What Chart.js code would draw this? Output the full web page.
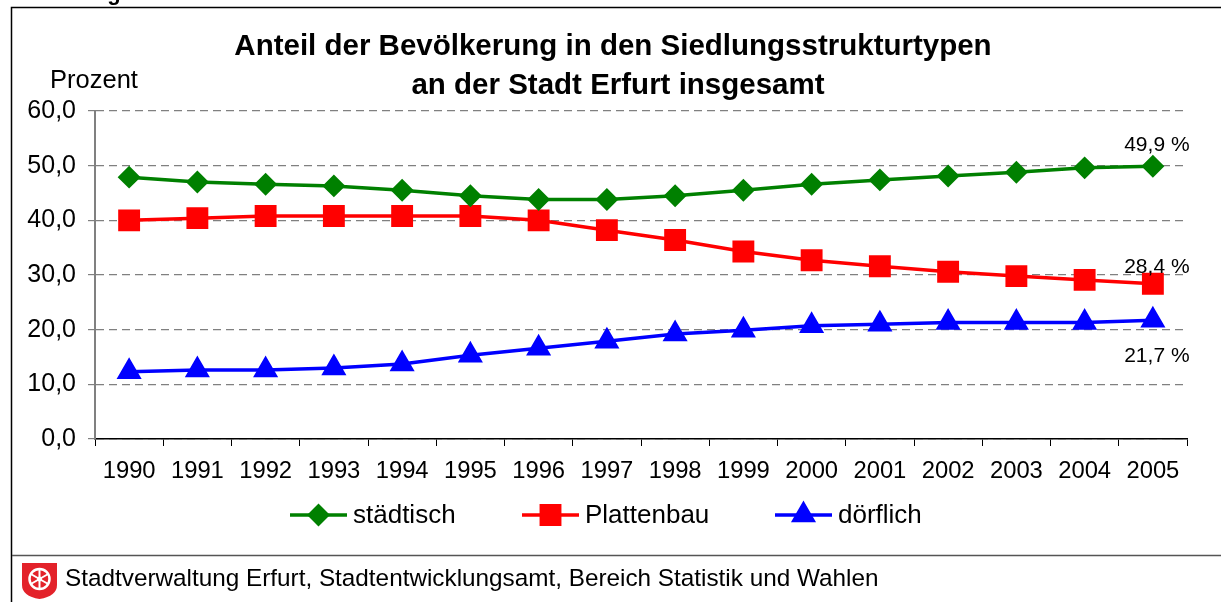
<!DOCTYPE html>
<html>
<head>
<meta charset="utf-8">
<script src="https://cdn.jsdelivr.net/npm/chart.js@4.4.1/dist/chart.umd.min.js"></script>
<style>
  html, body { margin: 0; padding: 0; background: #fff; }
  #wrap { width: 1221px; height: 602px; position: relative; }
</style>
</head>
<body>
<div id="wrap"><canvas id="siedlungChart" width="1221" height="602"></canvas></div>
<script>
const years = ['1990', '1991', '1992', '1993', '1994', '1995', '1996', '1997',
  '1998', '1999', '2000', '2001', '2002', '2003', '2004', '2005'];
const staedtisch = [47.9, 47.0, 46.6, 46.3, 45.5, 44.5, 43.8, 43.8, 44.5, 45.5, 46.6, 47.4, 48.1, 48.8, 49.6, 49.9];
const plattenbau = [40.0, 40.4, 40.8, 40.8, 40.8, 40.8, 40.0, 38.2, 36.4, 34.3, 32.7, 31.6, 30.6, 29.8, 29.1, 28.4];
const doerflich = [12.3, 12.6, 12.6, 13.0, 13.7, 15.3, 16.6, 17.9, 19.2, 19.9, 20.7, 21.0, 21.3, 21.3, 21.3, 21.7];
const seriesNames = ['städtisch', 'Plattenbau', 'dörflich'];
const endLabels = ['49,9 %', '28,4 %', '21,7 %'];

const titleLines = ['Anteil der Bevölkerung in den Siedlungsstrukturtypen', 'an der Stadt Erfurt insgesamt'];
const sourceText = 'Stadtverwaltung Erfurt, Stadtentwicklungsamt, Bereich Statistik und Wahlen';

const FONT = '"Liberation Sans", Arial, sans-serif';

function fmt(v) {
  return v.toFixed(1).replace('.', ',');
}

// frame, title, legend, labels and logo
const decorations = {
  id: 'decorations',
  beforeDraw(chart) {
    const ctx = chart.ctx;
    ctx.save();
    ctx.fillStyle = '#fff';
    ctx.fillRect(0, 0, chart.width, chart.height);
    ctx.fillStyle = '#000';
    ctx.font = 'bold 22px ' + FONT;
    ctx.textBaseline = 'alphabetic';
    ctx.fillText('Abbildung 2.7', 12, 0);
    ctx.strokeStyle = '#000';
    ctx.lineWidth = 1.5;
    ctx.beginPath();
    ctx.moveTo(11.5, 602);
    ctx.lineTo(11.5, 7.5);
    ctx.lineTo(1221, 7.5);
    ctx.stroke();
    ctx.strokeStyle = '#555';
    ctx.lineWidth = 1.5;
    ctx.beginPath();
    ctx.moveTo(12, 555.5);
    ctx.lineTo(1221, 555.5);
    ctx.stroke();
    ctx.restore();
  },
  afterDraw(chart) {
    const ctx = chart.ctx;
    ctx.save();
    ctx.fillStyle = '#000';
    ctx.textAlign = 'center';
    ctx.textBaseline = 'middle';
    ctx.font = 'bold 29.5px ' + FONT;
    ctx.fillText(titleLines[0], 613, 47);
    ctx.fillText(titleLines[1], 618, 86);

    ctx.font = '25.5px ' + FONT;
    ctx.fillText('Prozent', 94, 81);

    // end labels
    ctx.font = '21px ' + FONT;
    const offsets = [-21, -17, 36];
    chart.data.datasets.forEach((ds, i) => {
      const pts = chart.getDatasetMeta(i).data;
      const p = pts[pts.length - 1];
      ctx.fillText(endLabels[i], p.x + 4, p.y + offsets[i]);
    });

    // legend
    const legendX = [290, 522, 775];
    const legendY = 515;
    ctx.textAlign = 'left';
    ctx.font = '26px ' + FONT;
    chart.data.datasets.forEach((ds, i) => {
      const x0 = legendX[i];
      ctx.strokeStyle = ds.borderColor;
      ctx.lineWidth = 3.5;
      ctx.beginPath();
      ctx.moveTo(x0, legendY);
      ctx.lineTo(x0 + 57, legendY);
      ctx.stroke();
      Chart.helpers.drawPoint(ctx, {
        pointStyle: ds.pointStyle,
        radius: ds.pointRadius,
        rotation: 0,
        borderWidth: 1
      }, x0 + 28.5, legendY);
      ctx.fillStyle = ds.borderColor;
      ctx.fill();
      ctx.fillStyle = '#000';
      ctx.fillText(seriesNames[i], x0 + 63, legendY + 1);
    });

    // source line
    ctx.font = '24.3px ' + FONT;
    ctx.fillText(sourceText, 65, 579);

    // Erfurt shield
    ctx.fillStyle = '#e3222a';
    ctx.beginPath();
    ctx.moveTo(22, 563);
    ctx.lineTo(57, 563);
    ctx.lineTo(57, 585);
    ctx.quadraticCurveTo(57, 596, 39.5, 599);
    ctx.quadraticCurveTo(22, 596, 22, 585);
    ctx.closePath();
    ctx.fill();
    const cx = 39.5, cy = 579;
    ctx.strokeStyle = '#fff';
    ctx.lineWidth = 2.5;
    ctx.beginPath();
    ctx.arc(cx, cy, 10, 0, Math.PI * 2);
    ctx.stroke();
    ctx.lineWidth = 2;
    for (let k = 0; k < 3; k++) {
      const a = Math.PI / 2 + k * Math.PI / 3;
      ctx.beginPath();
      ctx.moveTo(cx + Math.cos(a) * 10, cy + Math.sin(a) * 10);
      ctx.lineTo(cx - Math.cos(a) * 10, cy - Math.sin(a) * 10);
      ctx.stroke();
    }
    ctx.fillStyle = '#fff';
    ctx.beginPath();
    ctx.arc(cx, cy, 2.5, 0, Math.PI * 2);
    ctx.fill();
    ctx.restore();
  }
};

const ctx = document.getElementById('siedlungChart');

new Chart(ctx, {
  type: 'line',
  data: {
    labels: years,
    datasets: [{
      label: seriesNames[0],
      data: staedtisch,
      borderColor: '#008000',
      backgroundColor: '#008000',
      pointStyle: 'rectRot',
      pointRadius: 9,
      borderWidth: 3.5
    }, {
      label: seriesNames[1],
      data: plattenbau,
      borderColor: '#ff0000',
      backgroundColor: '#ff0000',
      pointStyle: 'rect',
      pointRadius: 13,
      borderWidth: 3.5
    }, {
      label: seriesNames[2],
      data: doerflich,
      borderColor: '#0000ff',
      backgroundColor: '#0000ff',
      pointStyle: 'triangle',
      pointRadius: 11,
      borderWidth: 3.5
    }]
  },
  options: {
    responsive: false,
    animation: false,
    layout: {
      padding: { top: 111, left: 0, right: 34, bottom: 103 }
    },
    plugins: {
      legend: { display: false },
      title: { display: false },
      tooltip: { enabled: false }
    },
    elements: {
      line: { tension: 0 },
      point: { borderWidth: 0 }
    },
    scales: {
      x: {
        offset: true,
        afterFit(scale) { scale.height = 60; },
        grid: {
          drawOnChartArea: false,
          drawTicks: true,
          tickLength: 7,
          color: '#000',
          offset: true
        },
        border: { display: true, color: '#000', width: 1.5 },
        ticks: {
          color: '#000',
          padding: 11,
          maxRotation: 0,
          autoSkip: false,
          font: { family: FONT, size: 23.8 }
        }
      },
      y: {
        min: 0,
        max: 60,
        afterFit(scale) { scale.width = 95; },
        grid: {
          color: '#808080',
          lineWidth: 1.2,
          tickLength: 7
        },
        border: { display: true, color: '#808080', width: 2, dash: [8, 5] },
        ticks: {
          stepSize: 10,
          color: '#000',
          padding: 12,
          font: { family: FONT, size: 25 },
          callback: (v) => fmt(v)
        }
      }
    }
  },
  plugins: [decorations]
});
</script>
</body>
</html>
